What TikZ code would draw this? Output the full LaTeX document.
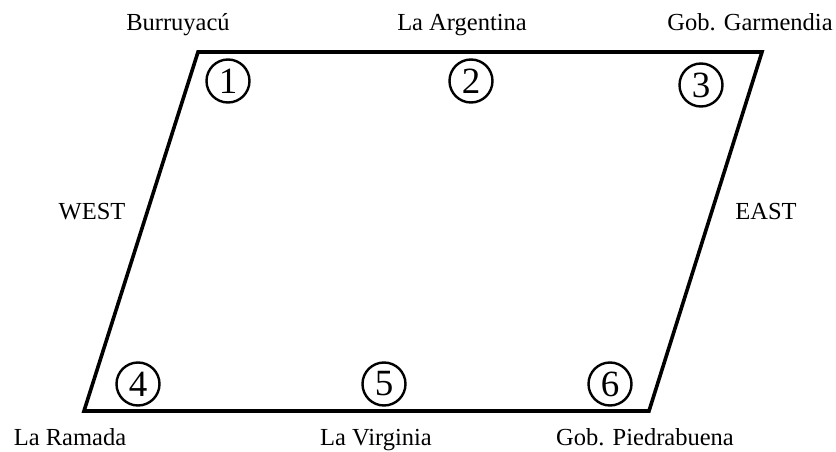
\documentclass[tikz,border=0pt]{standalone}
\usepackage{fontspec}
\setmainfont{Liberation Serif}
\begin{document}
\begin{tikzpicture}[x=1pt,y=1pt,
  lbl/.style={font=\fontsize{24.5}{28}\selectfont, inner sep=0pt, anchor=base},
  num/.style={circle, draw, line width=2.4pt, minimum size=43pt, inner sep=0pt,
              font=\fontsize{37}{42}\selectfont},
  edge/.style={line width=3.6pt, line join=miter}]
\useasboundingbox (0,0) rectangle (836,451);
\coordinate (tl) at (198,399);
\coordinate (tr) at (762,399);
\coordinate (br) at (649,40);
\coordinate (bl) at (84,40);
\draw[edge] (tl) -- (tr) -- (br) -- (bl) -- cycle;
\node[num] (n1) at (228,370) {1};
\node[num] (n2) at (471,370) {2};
\node[num] (n3) at (701,366) {3};
\node[num] (n4) at (138,67) {4};
\node[num] (n5) at (384,67) {5};
\node[num] (n6) at (610,67) {6};
\node[lbl] (burr) at (178,420) {Burruyacú};
\node[lbl] (arg) at (462,420) {La Argentina};
\node[lbl] (garm) at (750,420) {Gob. Garmendia};
\node[lbl] (west) at (92,232) {WEST};
\node[lbl] (east) at (766,232) {EAST};
\node[lbl] (ram) at (70,6) {La Ramada};
\node[lbl] (vir) at (376,6) {La Virginia};
\node[lbl] (pied) at (645,6) {Gob. Piedrabuena};
\end{tikzpicture}
\end{document}
